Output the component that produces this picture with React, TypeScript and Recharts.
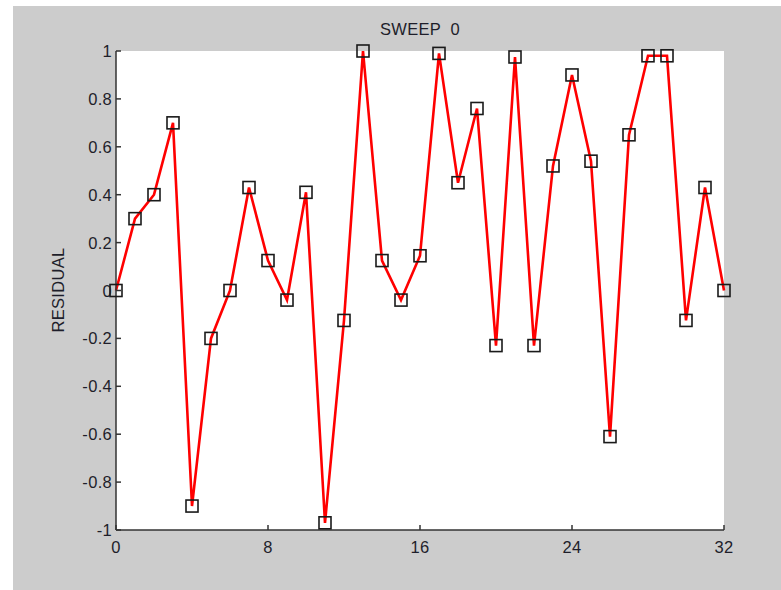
import React from 'react';
import { LineChart, Line, XAxis, YAxis, CartesianGrid } from 'recharts';

const xValues = [0, 1, 2, 3, 4, 5, 6, 7, 8, 9, 10, 11, 12, 13, 14, 15, 16, 17, 18, 19, 20, 21, 22, 23, 24, 25, 26, 27, 28, 29, 30, 31, 32];
const residuals = [0, 0.3, 0.4, 0.7, -0.9, -0.2, 0, 0.43, 0.125, -0.04, 0.41, -0.97, -0.125, 1.0, 0.125, -0.04, 0.145, 0.99, 0.45, 0.76, -0.23, 0.975, -0.23, 0.52, 0.9, 0.54, -0.61, 0.65, 0.98, 0.98, -0.125, 0.43, 0];
const xTicks = [0, 8, 16, 24, 32];
const yTicks = [-1, -0.8, -0.6, -0.4, -0.2, 0, 0.2, 0.4, 0.6, 0.8, 1];
const title = 'SWEEP  0';
const yLabel = 'RESIDUAL';

const data = xValues.map((x, i) => ({ x, r: residuals[i] }));

const W = 768;
const H = 584;
const M = { top: 45, right: 57, bottom: 30, left: 43 };
const YW = 60;
const XH = 30;
const PLOT_LEFT = M.left + YW;
const PLOT_BOTTOM = H - M.bottom - XH;
const FONT = '"Liberation Sans", Arial, sans-serif';
const FS = 16.5;
const TXT = '#1e1e2a';

const fmt = (v: number) => String(Math.round(v * 10) / 10);

const YTick = (props: any) => {
  const { y, payload } = props;
  return (
    <g>
      <line x1={PLOT_LEFT} x2={PLOT_LEFT + 5} y1={y} y2={y} stroke="#333" strokeWidth={1.5} />
      <text x={PLOT_LEFT - 4} y={y} textAnchor="end" dominantBaseline="central" fontFamily={FONT} fontSize={FS} fill={TXT} letterSpacing={0.3}>
        {fmt(payload.value)}
      </text>
    </g>
  );
};

const XTick = (props: any) => {
  const { x, payload } = props;
  return (
    <g>
      <line x1={x} x2={x} y1={PLOT_BOTTOM} y2={PLOT_BOTTOM - 5} stroke="#333" strokeWidth={1.5} />
      <text x={x} y={PLOT_BOTTOM + 17} textAnchor="middle" dominantBaseline="central" fontFamily={FONT} fontSize={FS} fill={TXT} letterSpacing={0.3}>
        {fmt(payload.value)}
      </text>
    </g>
  );
};

const SquareDot = (props: any) => {
  const { cx, cy, index } = props;
  if (cx == null || cy == null) return null;
  return <rect key={index} x={cx - 6} y={cy - 6} width={12} height={12} fill="none" stroke="#1a1a1a" strokeWidth={1.6} />;
};

export default function App() {
  return (
    <div style={{ position: 'fixed', left: 0, top: 0, width: 781, height: 590, background: '#fff' }}>
      <div style={{ position: 'absolute', left: 13, top: 6, width: W, height: H, background: '#cccccc' }}>
        <LineChart width={W} height={H} data={data} margin={M}>
          <CartesianGrid fill="#ffffff" stroke="none" horizontal={false} vertical={false} />
          <XAxis
            dataKey="x"
            type="number"
            domain={[0, 32]}
            ticks={xTicks}
            height={XH}
            axisLine={{ stroke: '#333', strokeWidth: 1.5 }}
            tickLine={false}
            tick={<XTick />}
            interval={0}
          />
          <YAxis
            type="number"
            domain={[-1, 1]}
            ticks={yTicks}
            width={YW}
            axisLine={{ stroke: '#333', strokeWidth: 1.5 }}
            tickLine={false}
            tick={<YTick />}
            interval={0}
          />
          <Line
            type="linear"
            dataKey="r"
            stroke="#ff0000"
            strokeWidth={2.6}
            dot={<SquareDot />}
            activeDot={false}
            isAnimationActive={false}
          />
        </LineChart>
        <div style={{ position: 'absolute', left: 0, width: W, top: 13, textAlign: 'center', paddingLeft: 46, boxSizing: 'border-box', fontFamily: FONT, fontSize: FS, color: TXT, whiteSpace: 'pre', lineHeight: '20px', letterSpacing: 0.3 }}>
          {title}
        </div>
        <div style={{ position: 'absolute', left: 45 - 60, top: 284 - 10, width: 120, height: 20, textAlign: 'center', transform: 'rotate(-90deg)', fontFamily: FONT, fontSize: FS, color: TXT, lineHeight: '20px', letterSpacing: 0.3 }}>
          {yLabel}
        </div>
      </div>
    </div>
  );
}
